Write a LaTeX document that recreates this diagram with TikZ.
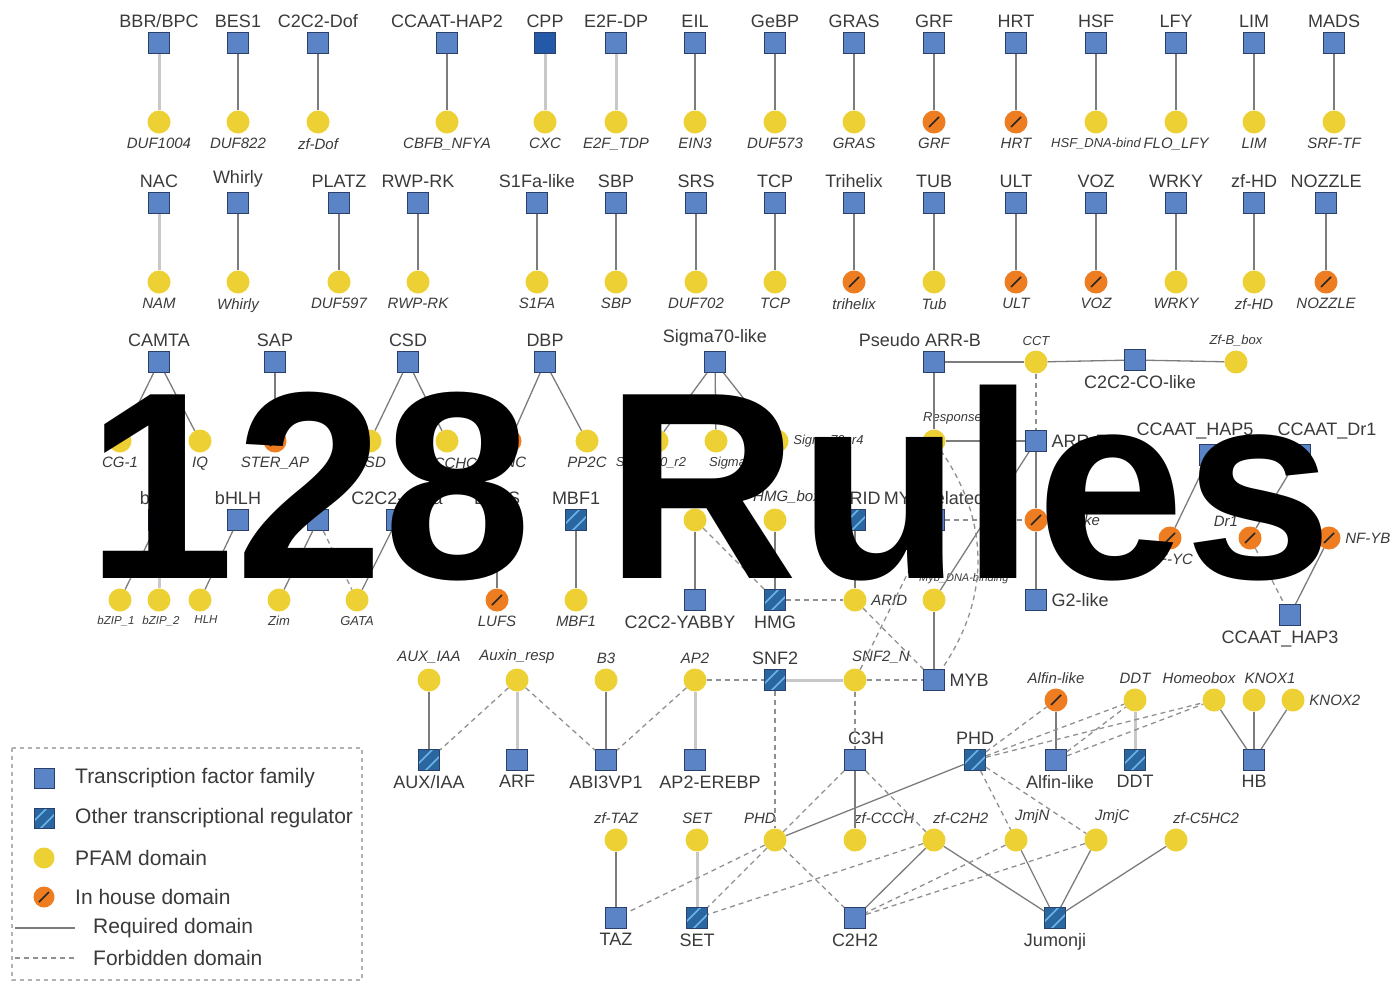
\documentclass[tikz,border=0pt]{standalone}
\usepackage{fontspec}
\setmainfont{Liberation Sans}
\definecolor{tfblue}{HTML}{5B84C6}
\definecolor{tfedge}{HTML}{2B3F6B}
\definecolor{cppblue}{HTML}{2458A8}
\definecolor{regblue}{HTML}{2A66A0}
\definecolor{regstripe}{HTML}{6DB6E8}
\definecolor{pfyellow}{HTML}{EDD033}
\definecolor{ihorange}{HTML}{EE7D22}
\definecolor{edgegray}{HTML}{7C7C7C}
\definecolor{edgelight}{HTML}{C8C8C8}
\definecolor{labgray}{HTML}{3A3A3A}
\tikzset{
  tf/.style={rectangle, draw=tfedge, fill=tfblue, line width=0.8pt, minimum size=21pt, inner sep=0pt},
  reg/.style={tf, fill=regblue, path picture={
      \draw[regstripe, line width=1.6pt] ([shift={(-11pt,-4pt)}]path picture bounding box.center) -- ([shift={(4pt,11pt)}]path picture bounding box.center);
      \draw[regstripe, line width=1.6pt] ([shift={(-4pt,-11pt)}]path picture bounding box.center) -- ([shift={(11pt,4pt)}]path picture bounding box.center);}},
  pf/.style={circle, fill=pfyellow, minimum size=23pt, inner sep=0pt},
  ih/.style={pf, fill=ihorange, path picture={
      \draw[black!85, line width=1.6pt] ([shift={(-5pt,-5pt)}]path picture bounding box.center) -- ([shift={(5pt,5pt)}]path picture bounding box.center);}},
  famlab/.style={font=\fontsize{18}{18}\selectfont, text=labgray, inner sep=1pt},
  domlab/.style={font=\fontsize{15}{15}\selectfont\itshape, text=labgray, inner sep=1pt},
  domsm/.style={font=\fontsize{13}{13}\selectfont\itshape, text=labgray, inner sep=1pt},
  domxs/.style={font=\fontsize{11.5}{11.5}\selectfont\itshape, text=labgray, inner sep=0.5pt},
  legtxt/.style={font=\fontsize{21}{21}\selectfont, text=labgray, anchor=west, inner sep=0pt},
  req/.style={draw=edgegray, line width=1.3pt},
  reqlt/.style={draw=edgelight, line width=3pt},
  forb/.style={draw=edgegray!85, line width=1.3pt, dash pattern=on 5pt off 4pt},
}

\begin{document}
\begin{tikzpicture}[x=1pt, y=-1pt, label distance=3.5pt]
\useasboundingbox (0,0) rectangle (1395,983);
%%%%% ROW 1 %%%%%
\node[tf, label={[famlab]above:BBR/BPC}] (bbr) at (159,43) {};
\node[pf, label={[domlab]below:DUF1004}] (duf1004) at (159,122) {};
\node[tf, label={[famlab]above:BES1}] (bes) at (238,43) {};
\node[pf, label={[domlab]below:DUF822}] (duf822) at (238,122) {};
\node[tf, label={[famlab]above:C2C2-Dof}] (dof) at (318,43) {};
\node[pf, label={[domlab]below:zf-Dof}] (zfdof) at (318,122) {};
\node[tf, label={[famlab]above:CCAAT-HAP2}] (haptwo) at (447,43) {};
\node[pf, label={[domlab]below:CBFB\_NFYA}] (cbfb) at (447,122) {};
\node[tf, fill=cppblue, label={[famlab]above:CPP}] (cpp) at (545,43) {};
\node[pf, label={[domlab]below:CXC}] (cxc) at (545,122) {};
\node[tf, label={[famlab]above:E2F-DP}] (etf) at (616,43) {};
\node[pf, label={[domlab]below:E2F\_TDP}] (etfd) at (616,122) {};
\node[tf, label={[famlab]above:EIL}] (eil) at (695,43) {};
\node[pf, label={[domlab]below:EIN3}] (ein) at (695,122) {};
\node[tf, label={[famlab]above:GeBP}] (gebp) at (775,43) {};
\node[pf, label={[domlab]below:DUF573}] (duf573) at (775,122) {};
\node[tf, label={[famlab]above:GRAS}] (gras) at (854,43) {};
\node[pf, label={[domlab]below:GRAS}] (grasd) at (854,122) {};
\node[tf, label={[famlab]above:GRF}] (grf) at (934,43) {};
\node[ih, label={[domlab]below:GRF}] (grfd) at (934,122) {};
\node[tf, label={[famlab]above:HRT}] (hrt) at (1016,43) {};
\node[ih, label={[domlab]below:HRT}] (hrtd) at (1016,122) {};
\node[tf, label={[famlab]above:HSF}] (hsf) at (1096,43) {};
\node[pf, label={[domsm]below:HSF\_DNA-bind}] (hsfd) at (1096,122) {};
\node[tf, label={[famlab]above:LFY}] (lfy) at (1176,43) {};
\node[pf, label={[domlab]below:FLO\_LFY}] (flo) at (1176,122) {};
\node[tf, label={[famlab]above:LIM}] (lim) at (1254,43) {};
\node[pf, label={[domlab]below:LIM}] (limd) at (1254,122) {};
\node[tf, label={[famlab]above:MADS}] (mads) at (1334,43) {};
\node[pf, label={[domlab]below:SRF-TF}] (srf) at (1334,122) {};

\draw[reqlt] (bbr) -- (duf1004);
\draw[req] (bes) -- (duf822);
\draw[req] (dof) -- (zfdof);
\draw[req] (haptwo) -- (cbfb);
\draw[reqlt] (cpp) -- (cxc);
\draw[reqlt] (etf) -- (etfd);
\draw[req] (eil) -- (ein);
\draw[req] (gebp) -- (duf573);
\draw[req] (gras) -- (grasd);
\draw[req] (grf) -- (grfd);
\draw[req] (hrt) -- (hrtd);
\draw[req] (hsf) -- (hsfd);
\draw[req] (lfy) -- (flo);
\draw[req] (lim) -- (limd);
\draw[req] (mads) -- (srf);

%%%%% ROW 2 %%%%%
\node[tf, label={[famlab]above:NAC}] (nac) at (159,203) {};
\node[pf, label={[domlab]below:NAM}] (nam) at (159,282) {};
\node[tf, label={[famlab]above:Whirly}] (whirly) at (238,203) {};
\node[pf, label={[domlab]below:Whirly}] (whirlyd) at (238,282) {};
\node[tf, label={[famlab]above:PLATZ}] (platz) at (339,203) {};
\node[pf, label={[domlab]below:DUF597}] (duf597) at (339,282) {};
\node[tf, label={[famlab]above:RWP-RK}] (rwp) at (418,203) {};
\node[pf, label={[domlab]below:RWP-RK}] (rwpd) at (418,282) {};
\node[tf, label={[famlab]above:S1Fa-like}] (sfa) at (537,203) {};
\node[pf, label={[domlab]below:S1FA}] (sfad) at (537,282) {};
\node[tf, label={[famlab]above:SBP}] (sbp) at (616,203) {};
\node[pf, label={[domlab]below:SBP}] (sbpd) at (616,282) {};
\node[tf, label={[famlab]above:SRS}] (srs) at (696,203) {};
\node[pf, label={[domlab]below:DUF702}] (duf702) at (696,282) {};
\node[tf, label={[famlab]above:TCP}] (tcp) at (775,203) {};
\node[pf, label={[domlab]below:TCP}] (tcpd) at (775,282) {};
\node[tf, label={[famlab]above:Trihelix}] (trih) at (854,203) {};
\node[ih, label={[domlab]below:trihelix}] (trihd) at (854,282) {};
\node[tf, label={[famlab]above:TUB}] (tub) at (934,203) {};
\node[pf, label={[domlab]below:Tub}] (tubd) at (934,282) {};
\node[tf, label={[famlab]above:ULT}] (ult) at (1016,203) {};
\node[ih, label={[domlab]below:ULT}] (ultd) at (1016,282) {};
\node[tf, label={[famlab]above:VOZ}] (voz) at (1096,203) {};
\node[ih, label={[domlab]below:VOZ}] (vozd) at (1096,282) {};
\node[tf, label={[famlab]above:WRKY}] (wrky) at (1176,203) {};
\node[pf, label={[domlab]below:WRKY}] (wrkyd) at (1176,282) {};
\node[tf, label={[famlab]above:zf-HD}] (zfhd) at (1254,203) {};
\node[pf, label={[domlab]below:zf-HD}] (zfhdd) at (1254,282) {};
\node[tf, label={[famlab]above:NOZZLE}] (nozzle) at (1326,203) {};
\node[ih, label={[domlab]below:NOZZLE}] (nozzled) at (1326,282) {};

\draw[reqlt] (nac) -- (nam);
\draw[req] (whirly) -- (whirlyd);
\draw[req] (platz) -- (duf597);
\draw[req] (rwp) -- (rwpd);
\draw[req] (sfa) -- (sfad);
\draw[req] (sbp) -- (sbpd);
\draw[req] (srs) -- (duf702);
\draw[req] (tcp) -- (tcpd);
\draw[req] (trih) -- (trihd);
\draw[req] (tub) -- (tubd);
\draw[req] (ult) -- (ultd);
\draw[req] (voz) -- (vozd);
\draw[req] (wrky) -- (wrkyd);
\draw[req] (zfhd) -- (zfhdd);
\draw[req] (nozzle) -- (nozzled);

%%%%% ROW 3 %%%%%
\node[tf, label={[famlab]above:CAMTA}] (camta) at (159,362) {};
\node[pf, label={[domlab]below:CG-1}] (cgone) at (120,441) {};
\node[pf, label={[domlab]below:IQ}] (iq) at (200,441) {};
\node[tf, label={[famlab]above:SAP}] (sap) at (275,362) {};
\node[ih, label={[domlab]below:STER\_AP}] (sterap) at (275,441) {};
\node[tf, label={[famlab]above:CSD}] (csd) at (408,362) {};
\node[pf, label={[domlab]below:CSD}] (csdd) at (370,441) {};
\node[pf, label={[domlab]below:zf-CCHC}] (zfcchc) at (447,441) {};
\node[tf, label={[famlab]above:DBP}] (dbp) at (545,362) {};
\node[ih, label={[domlab]below:DNC}] (dbpd) at (510,441) {};
\node[pf, label={[domlab]below:PP2C}] (pptc) at (587,441) {};
\node[tf, label={[famlab]above:Sigma70-like}] (sigma) at (715,362) {};
\node[pf, label={[domsm, xshift=-6pt]below:Sigma70\_r2}] (sigtwo) at (657,441) {};
\node[pf, label={[domsm, anchor=north west, xshift=-8pt]below:Sigma70\_r3}] (sigthree) at (716,441) {};
\node[pf, label={[domsm]right:Sigma70\_r4}] (sigfour) at (777,441) {};

\draw[req] (camta) -- (cgone);
\draw[req] (camta) -- (iq);
\draw[req] (sap) -- (sterap);
\draw[req] (csd) -- (csdd);
\draw[req] (csd) -- (zfcchc);
\draw[req] (dbp) -- (dbpd);
\draw[req] (dbp) -- (pptc);
\draw[req] (sigma) -- (sigtwo);
\draw[req] (sigma) -- (sigthree);
\draw[req] (sigma) -- (sigfour);

%%%%% ARR-B / MYB %%%%%
\node[tf, label={[famlab, xshift=-14pt]above:Pseudo ARR-B}] (psarr) at (934,362) {};
\node[pf, label={[domsm]above:CCT}] (cct) at (1036,362) {};
\node[tf, label={[famlab, xshift=5pt]below:C2C2-CO-like}] (coco) at (1135,360) {};
\node[pf, label={[domsm]above:Zf-B\_box}] (zfb) at (1236,362) {};
\node[pf, label={[domsm, anchor=south west, xshift=-12pt]above:Response\_reg}] (respreg) at (934,441) {};
\node[tf, label={[famlab]right:ARR-B}] (arrb) at (1036,441) {};
\node[tf, label={[famlab]above:MYB-related}] (mybrel) at (934,520) {};
\node[ih, label={[domlab]right:G2-like}] (gtwod) at (1036,520) {};
\node[pf, label={[font=\fontsize{11}{11}\selectfont\itshape, text=labgray, inner sep=1pt, anchor=south west, xshift=-16pt]above:Myb\_DNA-binding}] (mybd) at (934,600) {};
\node[tf, label={[famlab]right:G2-like}] (gtwo) at (1036,600) {};
\node[tf, label={[famlab]right:MYB}] (myb) at (934,680) {};

\draw[req] (psarr) -- (cct);
\draw[req] (cct) -- (coco);
\draw[req] (coco) -- (zfb);
\draw[req] (psarr) -- (respreg);
\draw[req] (respreg) -- (arrb);
\draw[forb] (cct) -- (arrb);
\draw[req] (arrb) -- (gtwod);
\draw[req] (gtwod) -- (gtwo);
\draw[req] (arrb) -- (mybd);
\draw[forb] (mybrel) -- (gtwod);
\draw[req] (mybd) -- (myb);
\draw[forb] (respreg) to[bend left=35] (myb);

%%%%% ROW 4 %%%%%
\node[tf, label={[famlab]above:bZIP}] (bzip) at (159,520) {};
\node[pf, label={[domxs, xshift=-4pt]below:bZIP\_1}] (bzone) at (120,600) {};
\node[pf, label={[domxs, xshift=2pt]below:bZIP\_2}] (bztwo) at (159,600) {};
\node[tf, label={[famlab]above:bHLH}] (bhlh) at (238,520) {};
\node[pf, label={[domxs, xshift=6pt]below:HLH}] (hlh) at (200,600) {};
\node[tf, label={[famlab]above:Tify}] (tify) at (318,520) {};
\node[pf, label={[domsm]below:Zim}] (zim) at (279,600) {};
\node[tf, label={[famlab]above:C2C2-Gata}] (gatasq) at (397,520) {};
\node[pf, label={[domsm]below:GATA}] (gata) at (357,600) {};
\node[tf, label={[famlab]above:LUFS}] (lufs) at (497,520) {};
\node[ih, label={[domlab]below:LUFS}] (lufsd) at (497,600) {};
\node[reg, label={[famlab]above:MBF1}] (mbf) at (576,520) {};
\node[pf, label={[domlab]below:MBF1}] (mbfd) at (576,600) {};
\node[pf, label={[domlab]above:YABBY}] (yabbyd) at (695,520) {};
\node[tf, label={[famlab, xshift=-15pt]below:C2C2-YABBY}] (yabby) at (695,600) {};
\node[pf, label={[domlab, xshift=12pt]above:HMG\_box}] (hmgbox) at (775,520) {};
\node[reg, label={[famlab]below:HMG}] (hmg) at (775,600) {};
\node[reg, label={[famlab, xshift=4pt]above:ARID}] (arid) at (855,520) {};
\node[pf, label={[domlab]right:ARID}] (aridd) at (855,600) {};

\draw[req] (bzip) -- (bzone);
\draw[reqlt] (bzip) -- (bztwo);
\draw[req] (bhlh) -- (hlh);
\draw[req] (tify) -- (zim);
\draw[forb] (tify) -- (gata);
\draw[req] (gatasq) -- (gata);
\draw[req] (lufs) -- (lufsd);
\draw[req] (mbf) -- (mbfd);
\draw[req] (yabbyd) -- (yabby);
\draw[forb] (yabbyd) -- (hmg);
\draw[req] (hmgbox) -- (hmg);
\draw[req] (arid) -- (aridd);
\draw[forb] (hmg) -- (aridd);
\draw[forb] (aridd) -- (myb);

%%%%% CCAAT %%%%%
\node[tf, label={[famlab, xshift=-15pt]above:CCAAT\_HAP5}] (hapfive) at (1210,455) {};
\node[tf, label={[famlab, xshift=27pt]above:CCAAT\_Dr1}] (drone) at (1300,455) {};
\node[ih, label={[domlab]below:NF-YC}] (nfyc) at (1170,538) {};
\node[ih, label={[domlab]above left:Dr1}] (droned) at (1250,538) {};
\node[ih, label={[domlab]right:NF-YB}] (nfyb) at (1329,538) {};
\node[tf, label={[famlab, xshift=-10pt]below:CCAAT\_HAP3}] (hapthree) at (1290,615) {};

\draw[req] (hapfive) -- (nfyc);
\draw[req] (drone) -- (droned);
\draw[forb] (droned) -- (hapthree);
\draw[req] (nfyb) -- (hapthree);

%%%%% AUX / SNF2 %%%%%
\node[pf, label={[domlab]above:AUX\_IAA}] (auxd) at (429,680) {};
\node[reg, label={[famlab]below:AUX/IAA}] (auxsq) at (429,760) {};
\node[pf, label={[domlab]above:Auxin\_resp}] (auxr) at (517,680) {};
\node[tf, label={[famlab]below:ARF}] (arf) at (517,760) {};
\node[pf, label={[domlab]above:B3}] (bthree) at (606,680) {};
\node[tf, label={[famlab]below:ABI3VP1}] (abi) at (606,760) {};
\node[pf, label={[domlab]above:AP2}] (aptwod) at (695,680) {};
\node[tf, label={[famlab, xshift=15pt]below:AP2-EREBP}] (aptwo) at (695,760) {};
\node[reg, label={[famlab]above:SNF2}] (snf) at (775,680) {};
\node[pf, label={[domlab, anchor=south west, xshift=-4pt]above:SNF2\_N}] (snfn) at (855,680) {};
\node[tf, label={[famlab, anchor=south west, xshift=-8pt]above:C3H}] (cthree) at (855,760) {};

\draw[req] (auxd) -- (auxsq);
\draw[reqlt] (auxr) -- (arf);
\draw[req] (bthree) -- (abi);
\draw[reqlt] (aptwod) -- (aptwo);
\draw[forb] (auxr) -- (auxsq);
\draw[forb] (auxr) -- (abi);
\draw[forb] (aptwod) -- (abi);
\draw[forb] (aptwod) -- (snf);
\draw[reqlt] (snf) -- (snfn);
\draw[forb] (snfn) -- (myb);
\draw[forb] (snfn) -- (mybrel);
\draw[forb] (snfn) -- (cthree);

%%%%% PHD / HB %%%%%
\node[reg, label={[famlab]above:PHD}] (phd) at (975,760) {};
\node[ih, label={[domlab]above:Alfin-like}] (alfd) at (1056,700) {};
\node[tf, label={[famlab, xshift=4pt]below:Alfin-like}] (alf) at (1056,760) {};
\node[pf, label={[domlab]above:DDT}] (ddtd) at (1135,700) {};
\node[reg, label={[famlab]below:DDT}] (ddt) at (1135,760) {};
\node[pf, label={[domlab, xshift=-15pt]above:Homeobox}] (hbox) at (1214,700) {};
\node[pf, label={[domlab, xshift=16pt]above:KNOX1}] (knoxone) at (1254,700) {};
\node[pf, label={[domlab]right:KNOX2}] (knoxtwo) at (1293,700) {};
\node[tf, label={[famlab]below:HB}] (hb) at (1254,760) {};

\draw[req] (alfd) -- (alf);
\draw[reqlt] (ddtd) -- (ddt);
\draw[req] (hbox) -- (hb);
\draw[req] (knoxone) -- (hb);
\draw[req] (knoxtwo) -- (hb);
\draw[forb] (phd) -- (alfd);
\draw[forb] (phd) -- (ddtd);
\draw[forb] (phd) -- (hbox);
\draw[forb] (alf) -- (ddtd);
\draw[forb] (alf) -- (hbox);

%%%%% BOTTOM %%%%%
\node[pf, label={[domlab]above:zf-TAZ}] (tazd) at (616,840) {};
\node[tf, label={[famlab]below:TAZ}] (taz) at (616,918) {};
\node[pf, label={[domlab]above:SET}] (setd) at (697,840) {};
\node[reg, label={[famlab]below:SET}] (setsq) at (697,918) {};
\node[pf, label={[domlab, anchor=south east, xshift=2pt]above:PHD}] (phdd) at (775,840) {};
\node[pf, label={[domlab, anchor=south west, xshift=-2pt]above:zf-CCCH}] (zfccch) at (855,840) {};
\node[pf, label={[domlab, anchor=south west, xshift=-2pt]above:zf-C2H2}] (zfchh) at (934,840) {};
\node[pf, label={[domlab, anchor=south west, xshift=-2pt]above:JmjN}] (jmjn) at (1016,840) {};
\node[pf, label={[domlab, anchor=south west, xshift=-2pt]above:JmjC}] (jmjc) at (1096,840) {};
\node[pf, label={[domlab, anchor=south west, xshift=-4pt]above:zf-C5HC2}] (zfcfive) at (1176,840) {};
\node[tf, label={[famlab]below:C2H2}] (chh) at (855,918) {};
\node[reg, label={[famlab]below:Jumonji}] (jumonji) at (1055,918) {};

\draw[req] (tazd) -- (taz);
\draw[reqlt] (setd) -- (setsq);
\draw[req] (phd) -- (phdd);
\draw[req] (cthree) -- (zfccch);
\draw[req] (zfchh) -- (chh);
\draw[req] (zfchh) -- (jumonji);
\draw[req] (jmjn) -- (jumonji);
\draw[req] (jmjc) -- (jumonji);
\draw[req] (zfcfive) -- (jumonji);
\draw[forb] (snf) -- (phdd);
\draw[forb] (cthree) -- (phdd);
\draw[forb] (cthree) -- (zfchh);
\draw[forb] (phd) -- (jmjn);
\draw[forb] (phd) -- (jmjc);
\draw[forb] (phdd) -- (taz);
\draw[forb] (phdd) -- (setsq);
\draw[forb] (phdd) -- (chh);
\draw[forb] (zfchh) -- (setsq);
\draw[forb] (jmjn) -- (chh);
\draw[forb] (jmjc) -- (chh);

%%%%% LEGEND %%%%%
\draw[gray!60, line width=1.5pt, dash pattern=on 4pt off 4pt] (12,748) rectangle (362,980);
\node[tf, minimum size=20pt] (lgtf) at (44,778) {};
\node[legtxt] (lgtftxt) at (75,778) {Transcription factor family};
\node[reg, minimum size=20pt] (lgreg) at (44,818) {};
\node[legtxt] (lgregtxt) at (75,818) {Other transcriptional regulator};
\node[pf, minimum size=21pt] (lgpf) at (44,858) {};
\node[legtxt] (lgpftxt) at (75,858) {PFAM domain};
\node[ih, minimum size=21pt] (lgih) at (44,897) {};
\node[legtxt] (lgihtxt) at (75,897) {In house domain};
\coordinate (lgreqa) at (15,928);
\coordinate (lgreqb) at (75,928);
\draw[req] (lgreqa) -- (lgreqb);
\node[legtxt] (lgreqtxt) at (93,928) {Required domain};
\coordinate (lgforba) at (15,958);
\coordinate (lgforbb) at (75,958);
\draw[forb] (lgforba) -- (lgforbb);
\node[legtxt] (lgforbtxt) at (93,958) {Forbidden domain};

%%%%% OVERLAY %%%%%
\node[font=\fontsize{267}{267}\selectfont\bfseries, text=black, inner sep=0pt, anchor=base] (rules) at (710,578) {128 Rules};
\end{tikzpicture}
\end{document}
